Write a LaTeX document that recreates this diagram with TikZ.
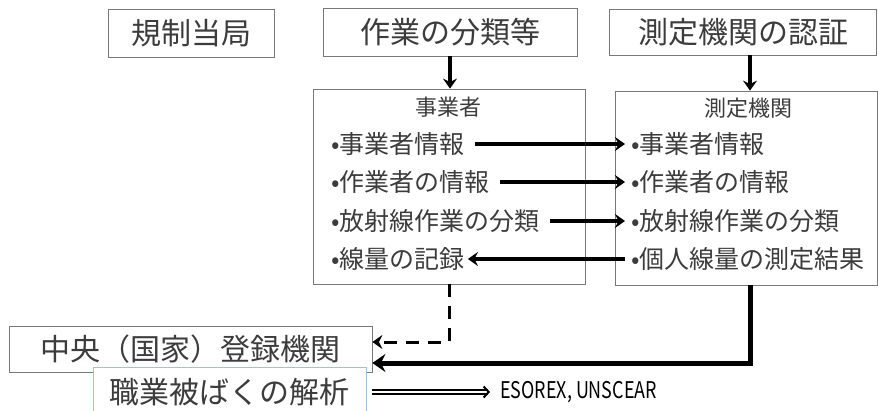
\documentclass[tikz,border=0pt]{standalone}
\usepackage{fontspec}
\setmainfont{Noto Sans CJK JP}
\newfontfamily\latinEtroit[FakeStretch=0.78]{Noto Sans CJK JP}
\usepackage{xcolor}
\usepackage{tikz}
\usetikzlibrary{arrows.meta}
\definecolor{grisTexte}{RGB}{60,60,60}
\definecolor{grisCadre}{RGB}{120,120,120}
\definecolor{bleuCadre}{RGB}{165,192,222}
\tikzset{
Boite/.style={
 draw=grisCadre, 
 line width=0.8pt, 
 rectangle, 
 inner sep=0pt, 
 text=grisTexte
 },
Grand/.style={
 font=\fontsize{30}{30}\selectfont
 },
Petit/.style={
 font=\fontsize{22}{22}\selectfont, 
 text=grisTexte
 },
ItemG/.style={
 font=\fontsize{25}{25}\selectfont, 
 text=grisTexte, 
 anchor=west, 
 inner xsep=10pt
 },
ItemD/.style={
 font=\fontsize{25}{25}\selectfont, 
 text=grisTexte, 
 anchor=west, 
 inner xsep=6pt
 },
Fleche/.style={
 draw=black, 
 line width=3.2pt, 
 -{Stealth[length=10pt,width=14pt,inset=3.5pt]}
 },
Pointilles/.style={
 draw=black, 
 line width=3pt, 
 dash pattern=on 13pt off 9pt, 
 -{Stealth[length=10pt,width=14pt,inset=3.5pt]}
 },
GrosTrait/.style={
 draw=black, 
 line width=5pt, 
 -{Stealth[length=13pt,width=18pt,inset=4.5pt]}
 },
FlecheDouble/.style={
 draw=black, 
 double, 
 line width=2pt, 
 double distance=1.4pt, 
 -{Straight Barb[length=5pt,width=11pt]}
 }
}
\begin{document}
\begin{tikzpicture}[x=1pt,y=-1pt]
\useasboundingbox (0,0) rectangle (878,410);
% cadres du haut
\node[Boite,Grand,minimum width=166pt,minimum height=48pt] (regul) at (191,33) {規制当局};
\node[Boite,Grand,minimum width=254pt,minimum height=48pt] (classif) at (450,32) {作業の分類等};
\node[Boite,Grand,minimum width=267pt,minimum height=46pt] (certif) at (743,32) {測定機関の認証};
% les deux organismes
\node[Boite,minimum width=272pt,minimum height=195pt] (jigyo) at (449,186.5) {};
\node[Boite,minimum width=262pt,minimum height=194pt] (sokutei) at (746,188) {};
\node[Petit] (tjigyo) at (448,107) {事業者};
\node[Petit] (tsokutei) at (748,108) {測定機関};
\draw[Fleche] (classif.south) -- (classif.south |- jigyo.north);
\draw[Fleche] ([xshift=7pt]certif.south) -- ([xshift=7pt]certif.south |- sokutei.north);
% donnees echangees
\node[ItemG] (l1) at (321,144) {•事業者情報};
\node[ItemG] (l2) at (321,182) {•作業者の情報};
\node[ItemG] (l3) at (321,221) {•放射線作業の分類};
\node[ItemG] (l4) at (321,259) {•線量の記録};
\node[ItemD] (r1) at (625,144) {•事業者情報};
\node[ItemD] (r2) at (625,182) {•作業者の情報};
\node[ItemD] (r3) at (625,221) {•放射線作業の分類};
\node[ItemD] (r4) at (625,259) {•個人線量の測定結果};
\draw[Fleche] (l1.east) -- (r1.west);
\draw[Fleche] (l2.east) -- (r2.west);
\draw[Fleche] (l3.east) -- (r3.west);
\draw[Fleche,shorten >=-7pt] (r4.west) -- (l4.east);
% registre central
\node[Boite,Grand,minimum width=363pt,minimum height=46pt] (chuo) at (190.5,349) {中央（国家）登録機関};
\node[Boite,Grand,draw=bleuCadre,fill=white,minimum width=273pt,minimum height=50pt] (kaiseki) at (229.5,392) {職業被ばくの解析};
\node[anchor=west,inner xsep=10pt,font=\latinEtroit\fontsize{23}{23}\selectfont] (esorex) at (490,392) {ESOREX, UNSCEAR};
\draw[Pointilles] (jigyo.south) |- ([yshift=7pt]chuo.east);
\draw[GrosTrait] ([xshift=4pt]sokutei.south) |- ([yshift=-14pt]chuo.east);
\draw[FlecheDouble,shorten <=6pt] (kaiseki.east) -- (esorex.west);
\end{tikzpicture}
\end{document}
